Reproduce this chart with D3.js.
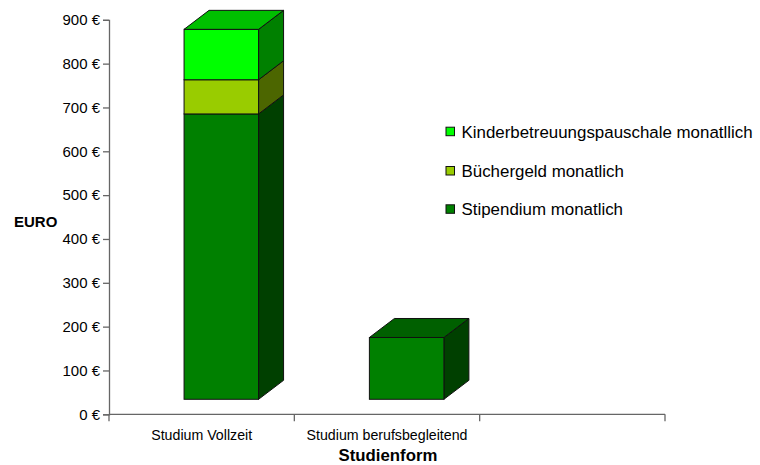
<!DOCTYPE html>
<html>
<head>
<meta charset="utf-8">
<script src="https://cdn.jsdelivr.net/npm/d3@7/dist/d3.min.js"></script>
<style>
  html, body { margin: 0; padding: 0; background: #fff; }
  svg { display: block; font-family: "Liberation Sans", Arial, sans-serif; }
</style>
</head>
<body>
<svg id="chart" width="760" height="465"></svg>
<script>
// ---- data ----
const categories = ["Studium Vollzeit", "Studium berufsbegleitend", ""];
const stipendium = [651, 141, 0];
const buechergeld = [78, 0, 0];
const kinderbetreuung = [115, 0, 0];
const seriesNames = ["Stipendium monatlich", "Büchergeld monatlich", "Kinderbetreuungspauschale monatllich"];
const yTicks = [0, 100, 200, 300, 400, 500, 600, 700, 800, 900];

// ---- styles ----
const frontColors = ["#008000", "#99CC00", "#00FF00"];
const sideColors  = ["#004000", "#4C6600", "#008000"];
const topColors   = ["#006000", "#739900", "#00BF00"];

const svg = d3.select("#chart");
const x0 = 109, x1 = 665, yBase = 414.3, yTop = 19.8;
const depthX = 25, depthY = -19, lift = 15;

const x = d3.scaleBand().domain(categories.map((c, i) => i)).range([x0, x1]).paddingInner(0).paddingOuter(0);
const y = d3.scaleLinear().domain([0, 900]).range([yBase, yTop]);
const bw = x.bandwidth();

const rows = categories.map((c, i) => ({ i, s: stipendium[i], b: buechergeld[i], k: kinderbetreuung[i] }));
const stack = d3.stack().keys(["s", "b", "k"])(rows);

// ---- axes ----
const axisColor = "#666";
const yAxis = d3.axisLeft(y).tickValues(yTicks).tickSize(6).tickPadding(3).tickFormat(d => d + " €");
const gy = svg.append("g").attr("transform", `translate(${x0},0)`).call(yAxis);
gy.select(".domain").attr("stroke", axisColor).attr("stroke-width", 1.3);
gy.selectAll(".tick line").attr("stroke", axisColor).attr("stroke-width", 1.3);
gy.selectAll(".tick text").attr("font-size", 15).attr("fill", "#000")
  .attr("font-family", "Liberation Sans, Arial, sans-serif");

const xAxis = d3.axisBottom(x).tickSize(0).tickFormat(i => categories[i]);
const gx = svg.append("g").attr("transform", `translate(0,${yBase})`).call(xAxis);
gx.select(".domain").attr("stroke", axisColor).attr("stroke-width", 1.3).attr("d", `M${x0},0H${x1}`);
gx.selectAll(".tick text").attr("font-size", 14.2).attr("fill", "#000").attr("y", 25.7)
  .attr("dy", 0).attr("font-family", "Liberation Sans, Arial, sans-serif");
// category separator ticks
const sepTicks = categories.map((c, i) => x(i)).concat([x1]);
gx.selectAll("line.sep").data(sepTicks).enter().append("line")
  .attr("x1", d => d).attr("x2", d => d).attr("y1", 0).attr("y2", 7)
  .attr("stroke", axisColor).attr("stroke-width", 1.3);

// ---- 3D bars ----
const barG = svg.append("g");
const fx = i => x(i) + bw * 0.405;
const fw = bw * 0.402;
const edge = "#111";

rows.forEach(r => {
  const segs = stack.map((layer, si) => ({ si, y0: layer[r.i][0], y1: layer[r.i][1] })).filter(d => d.y1 > d.y0);
  segs.forEach((sg, idx) => {
    const L = fx(r.i), R = L + fw;
    const T = y(sg.y1) - lift, B = y(sg.y0) - lift;
    // side face
    barG.append("path")
      .attr("d", `M${R},${B}L${R + depthX},${B + depthY}L${R + depthX},${T + depthY}L${R},${T}Z`)
      .attr("fill", sideColors[sg.si]).attr("stroke", edge).attr("stroke-width", 1).attr("stroke-linejoin", "round");
    // front face
    barG.append("rect").attr("x", L).attr("y", T).attr("width", fw).attr("height", B - T)
      .attr("fill", frontColors[sg.si]).attr("stroke", edge).attr("stroke-width", 1);
    if (idx === segs.length - 1) {
      barG.append("path")
        .attr("d", `M${L},${T}L${R},${T}L${R + depthX},${T + depthY}L${L + depthX},${T + depthY}Z`)
        .attr("fill", topColors[sg.si]).attr("stroke", edge).attr("stroke-width", 1).attr("stroke-linejoin", "round");
    }
  });
});

// ---- axis titles ----
svg.append("text").attr("x", 14).attr("y", 226.5).attr("font-size", 15).attr("font-weight", "bold")
  .attr("fill", "#000").text("EURO");
svg.append("text").attr("x", (x0 + x1) / 2 + 1).attr("y", 461).attr("text-anchor", "middle")
  .attr("font-size", 16.8).attr("font-weight", "bold").attr("fill", "#000").text("Studienform");

// ---- legend ----
const legendOrder = [2, 1, 0];
const legendY = [131.7, 171, 209.3];
const lg = svg.append("g");
legendOrder.forEach((si, k) => {
  lg.append("rect").attr("x", 446).attr("y", legendY[k] - 4.5).attr("width", 8.5).attr("height", 8.5)
    .attr("fill", frontColors[si]).attr("stroke", "#111").attr("stroke-width", 1);
  lg.append("text").attr("x", 461.5).attr("y", legendY[k]).attr("dy", "0.35em")
    .attr("font-size", 16.9).attr("fill", "#000").text(seriesNames[si]);
});
</script>
</body>
</html>
